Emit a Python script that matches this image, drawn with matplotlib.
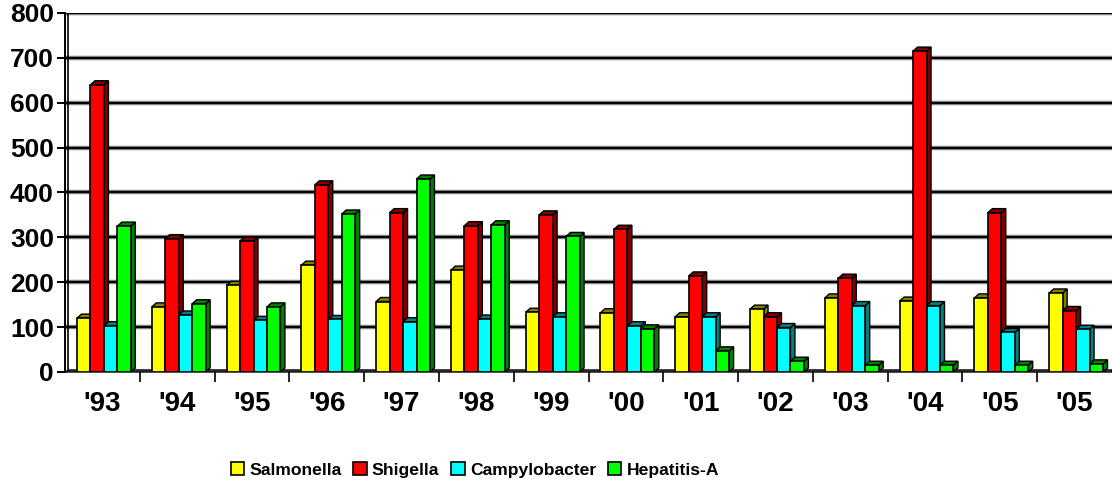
import numpy as np
import matplotlib.pyplot as plt
from matplotlib.patches import Polygon, Patch

plt.rcParams['font.family'] = ['Liberation Sans', 'DejaVu Sans']
plt.rcParams['font.weight'] = 'bold'

years = ["'93", "'94", "'95", "'96", "'97", "'98", "'99", "'00", "'01", "'02", "'03", "'04", "'05", "'05"]
salmonella = [120, 145, 193, 238, 157, 227, 133, 132, 123, 140, 165, 158, 165, 176]
shigella = [640, 297, 292, 417, 355, 326, 350, 318, 214, 123, 209, 715, 355, 137]
campylobacter = [103, 127, 115, 117, 112, 118, 123, 103, 123, 99, 148, 148, 88, 95]
hepatitis_a = [325, 152, 145, 352, 430, 328, 302, 96, 47, 24, 15, 15, 15, 18]

names = ['Salmonella', 'Shigella', 'Campylobacter', 'Hepatitis-A']
series = [salmonella, shigella, campylobacter, hepatitis_a]
front = ['#FFFF00', '#FF0000', '#00FFFF', '#00FF00']
side = ['#808000', '#800000', '#008080', '#008000']

fig = plt.figure(figsize=(11.12, 4.86), dpi=100)
ax = fig.add_axes([0.0585, 0.2346, 0.9415, 0.7387])

n = len(years)
bw = 0.18
dx, dy = 0.06, 9  # fake 3d depth

ax.set_xlim(0, n)
ax.set_ylim(0, 800)

# back wall gridlines
for v in range(100, 801, 100):
    ax.axhline(v, color='#808080', lw=3.2, zorder=1)
    ax.axhline(v, color='black', lw=1.4, zorder=1)
ax.axvline(0.035, color='black', lw=1.2, zorder=1)

# floor
ax.add_patch(Polygon([(0, 0), (dx, dy * 0.5), (n, dy * 0.5), (n, 0)],
                     closed=True, fc='#808080', ec='black', lw=1, zorder=2, clip_on=False))

for s, vals in enumerate(series):
    for i, h in enumerate(vals):
        x0 = i + 0.16 + s * bw
        x1 = x0 + bw
        z = 3 + s
        ax.add_patch(Polygon([(x1, 0), (x1 + dx, dy), (x1 + dx, h + dy), (x1, h)],
                             closed=True, fc=side[s], ec='black', lw=1, zorder=z))
        ax.add_patch(Polygon([(x0, h), (x0 + dx, h + dy), (x1 + dx, h + dy), (x1, h)],
                             closed=True, fc=side[s], ec='black', lw=1, zorder=z))
    ax.bar(np.arange(n) + 0.16 + s * bw, vals, width=bw, align='edge',
           color=front[s], edgecolor='black', lw=1.2, zorder=3 + s)

for sp in ['top', 'right', 'bottom']:
    ax.spines[sp].set_visible(False)
ax.spines['left'].set_linewidth(1.4)

ax.set_yticks(range(0, 801, 100))
ax.tick_params(axis='y', labelsize=19, length=6, width=1.4, pad=2)
ax.set_xticks(np.arange(n) + 0.5)
ax.set_xticklabels(years)
ax.tick_params(axis='x', which='major', length=0, labelsize=20, pad=14)
ax.set_xticks(np.arange(1, n), minor=True)
ax.tick_params(axis='x', which='minor', length=7, width=1.2, direction='out')
ax.axhline(0, color='black', lw=1, zorder=2)

handles = [Patch(fc=front[s], ec='black', lw=1.2) for s in range(4)]
fig.legend(handles, names, loc='center', bbox_to_anchor=(0.427, 0.033), ncol=4,
           frameon=False, handlelength=0.75, handleheight=0.75,
           handletextpad=0.3, columnspacing=0.7, prop={'weight': 'bold', 'size': 12.6})

fig.savefig('out.png', dpi=100)
